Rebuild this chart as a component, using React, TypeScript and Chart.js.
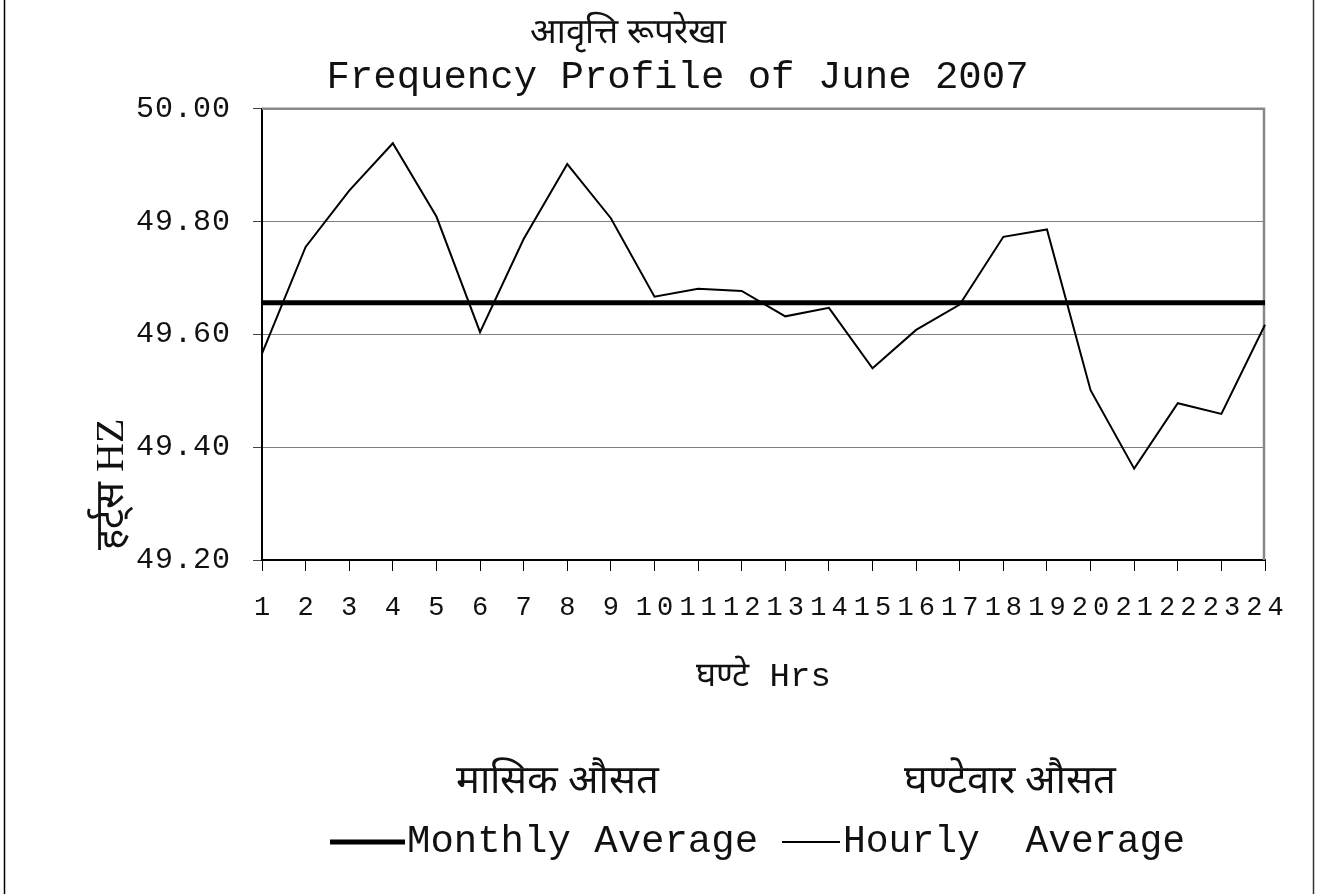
import React, { useEffect, useRef } from "react";
import { Chart, registerables } from "chart.js";

Chart.register(...registerables);

// ---------- data ----------
const hours = ["1", "2", "3", "4", "5", "6", "7", "8", "9", "10", "11", "12", "13", "14", "15", "16", "17", "18", "19", "20", "21", "22", "23", "24"];
const hourlyAverage = [49.566, 49.755, 49.855, 49.939, 49.809, 49.604, 49.769, 49.902, 49.806, 49.667, 49.681, 49.677, 49.632, 49.647, 49.54, 49.608, 49.653, 49.773, 49.786, 49.501, 49.362, 49.478, 49.459, 49.617];
const monthlyAverage = [49.656, 49.656, 49.656, 49.656, 49.656, 49.656, 49.656, 49.656, 49.656, 49.656, 49.656, 49.656, 49.656, 49.656, 49.656, 49.656, 49.656, 49.656, 49.656, 49.656, 49.656, 49.656, 49.656, 49.656];
const yTicks = [49.2, 49.4, 49.6, 49.8, 50.0];

const titleHindi = "आवृत्ति रूपरेखा";
const titleEnglish = "Frequency Profile of June 2007";
const yTitle = " हर्ट्स HZ";
const xTitle = "घण्टे Hrs";
const legendHindi = ["मासिक औसत", "घण्टेवार औसत"];
const seriesNames = ["Monthly Average", "Hourly  Average"];

// ---------- styling ----------
const MONO = "'Liberation Mono', 'Courier New', monospace";
const HINDI = "'Liberation Serif', serif";
const INK = "#111";

const legendLayout = [
  { lineFrom: 330, lineTo: 405, textX: 407, headX: 557, size: 39 },
  { lineFrom: 782, lineTo: 840, textX: 843, headX: 1010, size: 38 },
];
const LEGEND_Y = 842;
const LEGEND_HEAD_Y = 782;

const decor = {
  id: "decor",
  beforeDraw(chart: any) {
    const ctx = chart.ctx;
    ctx.save();
    ctx.fillStyle = "#fff";
    ctx.fillRect(0, 0, chart.width, chart.height);
    ctx.strokeStyle = "#000";
    ctx.lineWidth = 1.5;
    ctx.beginPath();
    ctx.moveTo(4.5, 0);
    ctx.lineTo(4.5, chart.height);
    ctx.stroke();
    ctx.strokeStyle = "#333";
    ctx.beginPath();
    ctx.moveTo(1313.5, 0);
    ctx.lineTo(1313.5, chart.height);
    ctx.stroke();
    ctx.restore();
  },
  beforeDatasetsDraw(chart: any) {
    const { ctx, chartArea } = chart;
    ctx.save();
    ctx.strokeStyle = "#888";
    ctx.lineWidth = 2.5;
    ctx.beginPath();
    ctx.moveTo(chartArea.left, chartArea.top);
    ctx.lineTo(chartArea.right - 1, chartArea.top);
    ctx.lineTo(chartArea.right - 1, chartArea.bottom);
    ctx.stroke();
    ctx.restore();
  },
  afterDraw(chart: any) {
    const ctx = chart.ctx;
    ctx.save();
    ctx.fillStyle = INK;
    ctx.textBaseline = "middle";
    // Hindi title
    ctx.textAlign = "center";
    ctx.font = `35px ${HINDI}`;
    ctx.fillText(titleHindi, 628, 34);
    // legend
    chart.data.datasets.forEach((ds: any, i: number) => {
      const L = legendLayout[i];
      ctx.textAlign = "center";
      ctx.font = `40px ${HINDI}`;
      ctx.fillText(legendHindi[i], L.headX, LEGEND_HEAD_Y);
      ctx.strokeStyle = ds.borderColor;
      ctx.lineWidth = ds.borderWidth;
      ctx.beginPath();
      ctx.moveTo(L.lineFrom, LEGEND_Y);
      ctx.lineTo(L.lineTo, LEGEND_Y);
      ctx.stroke();
      ctx.textAlign = "left";
      ctx.font = `${L.size}px ${MONO}`;
      ctx.fillText(ds.label, L.textX, LEGEND_Y);
    });
    ctx.restore();
  },
};

export default function App() {
  const ref = useRef<HTMLCanvasElement>(null);

  useEffect(() => {
    const canvas = ref.current;
    if (!canvas) return;
    const chart: any = new Chart(canvas, {
      type: "line",
      data: {
        labels: hours,
        datasets: [
          {
            label: seriesNames[0],
            data: monthlyAverage,
            borderColor: "#000",
            borderWidth: 5,
            pointRadius: 0,
            tension: 0,
            fill: false,
          },
          {
            label: seriesNames[1],
            data: hourlyAverage,
            borderColor: "#000",
            borderWidth: 2,
            pointRadius: 0,
            tension: 0,
            fill: false,
          },
        ],
      },
      options: {
        responsive: false,
        animation: false,
        devicePixelRatio: 1,
        layout: { padding: { left: 90, right: 64, top: 0, bottom: 180 } },
        plugins: {
          legend: { display: false },
          tooltip: { enabled: false },
          title: {
            display: true,
            text: titleEnglish,
            color: INK,
            font: { family: MONO, size: 39, weight: "normal", lineHeight: 1.2 },
            padding: { top: 54, bottom: 8 },
          },
        },
        scales: {
          x: {
            type: "category",
            offset: false,
            grid: { drawOnChartArea: false, drawTicks: true, tickLength: 11, color: "#000", lineWidth: 1 },
            border: { display: true, color: "#000", width: 2 },
            ticks: {
              autoSkip: false,
              maxRotation: 0,
              minRotation: 0,
              padding: 21,
              color: INK,
              font: { family: MONO, size: 27 },
            },
            title: {
              display: true,
              text: xTitle,
              color: INK,
              font: { family: MONO, size: 34, lineHeight: 1.2 },
              padding: { top: 0, bottom: 17 },
            },
            afterFit: (s: any) => {
              s.height = 154;
            },
          },
          y: {
            min: 49.2,
            max: 50,
            afterBuildTicks: (s: any) => {
              s.ticks = yTicks.map((v) => ({ value: v }));
            },
            grid: { color: "#808080", lineWidth: 1, tickLength: 9, tickColor: "#444" },
            border: { display: true, color: "#000", width: 2 },
            ticks: {
              padding: 23,
              color: INK,
              font: { family: MONO, size: 30 },
              callback: (v: any) => Number(v).toFixed(2),
            },
            title: {
              display: true,
              text: yTitle,
              align: "start",
              color: INK,
              font: { family: HINDI, size: 40, lineHeight: 1 },
              padding: { top: 2, bottom: 0 },
            },
            afterFit: (s: any) => {
              s.width = 172;
            },
          },
        },
      },
      plugins: [decor],
    } as any);

    // spaced characters on the axes, as in the original
    const spaced = (scale: any, spacing: number, shift: number) => {
      const orig = scale.drawLabels.bind(scale);
      scale.drawLabels = (area: any) => {
        const c: any = chart.ctx;
        c.save();
        c.letterSpacing = `${spacing}px`;
        c.translate(shift, 0);
        orig(area);
        c.restore();
      };
    };
    spaced(chart.scales.x, 5, 2.5);
    spaced(chart.scales.y, 1, 1);
    chart.draw();

    return () => chart.destroy();
  }, []);

  return (
    <div style={{ position: "absolute", left: 0, top: 0, width: 1329, height: 894, overflow: "hidden" }}>
      <canvas ref={ref} width={1329} height={894} style={{ display: "block", width: 1329, height: 894 }} />
    </div>
  );
}
